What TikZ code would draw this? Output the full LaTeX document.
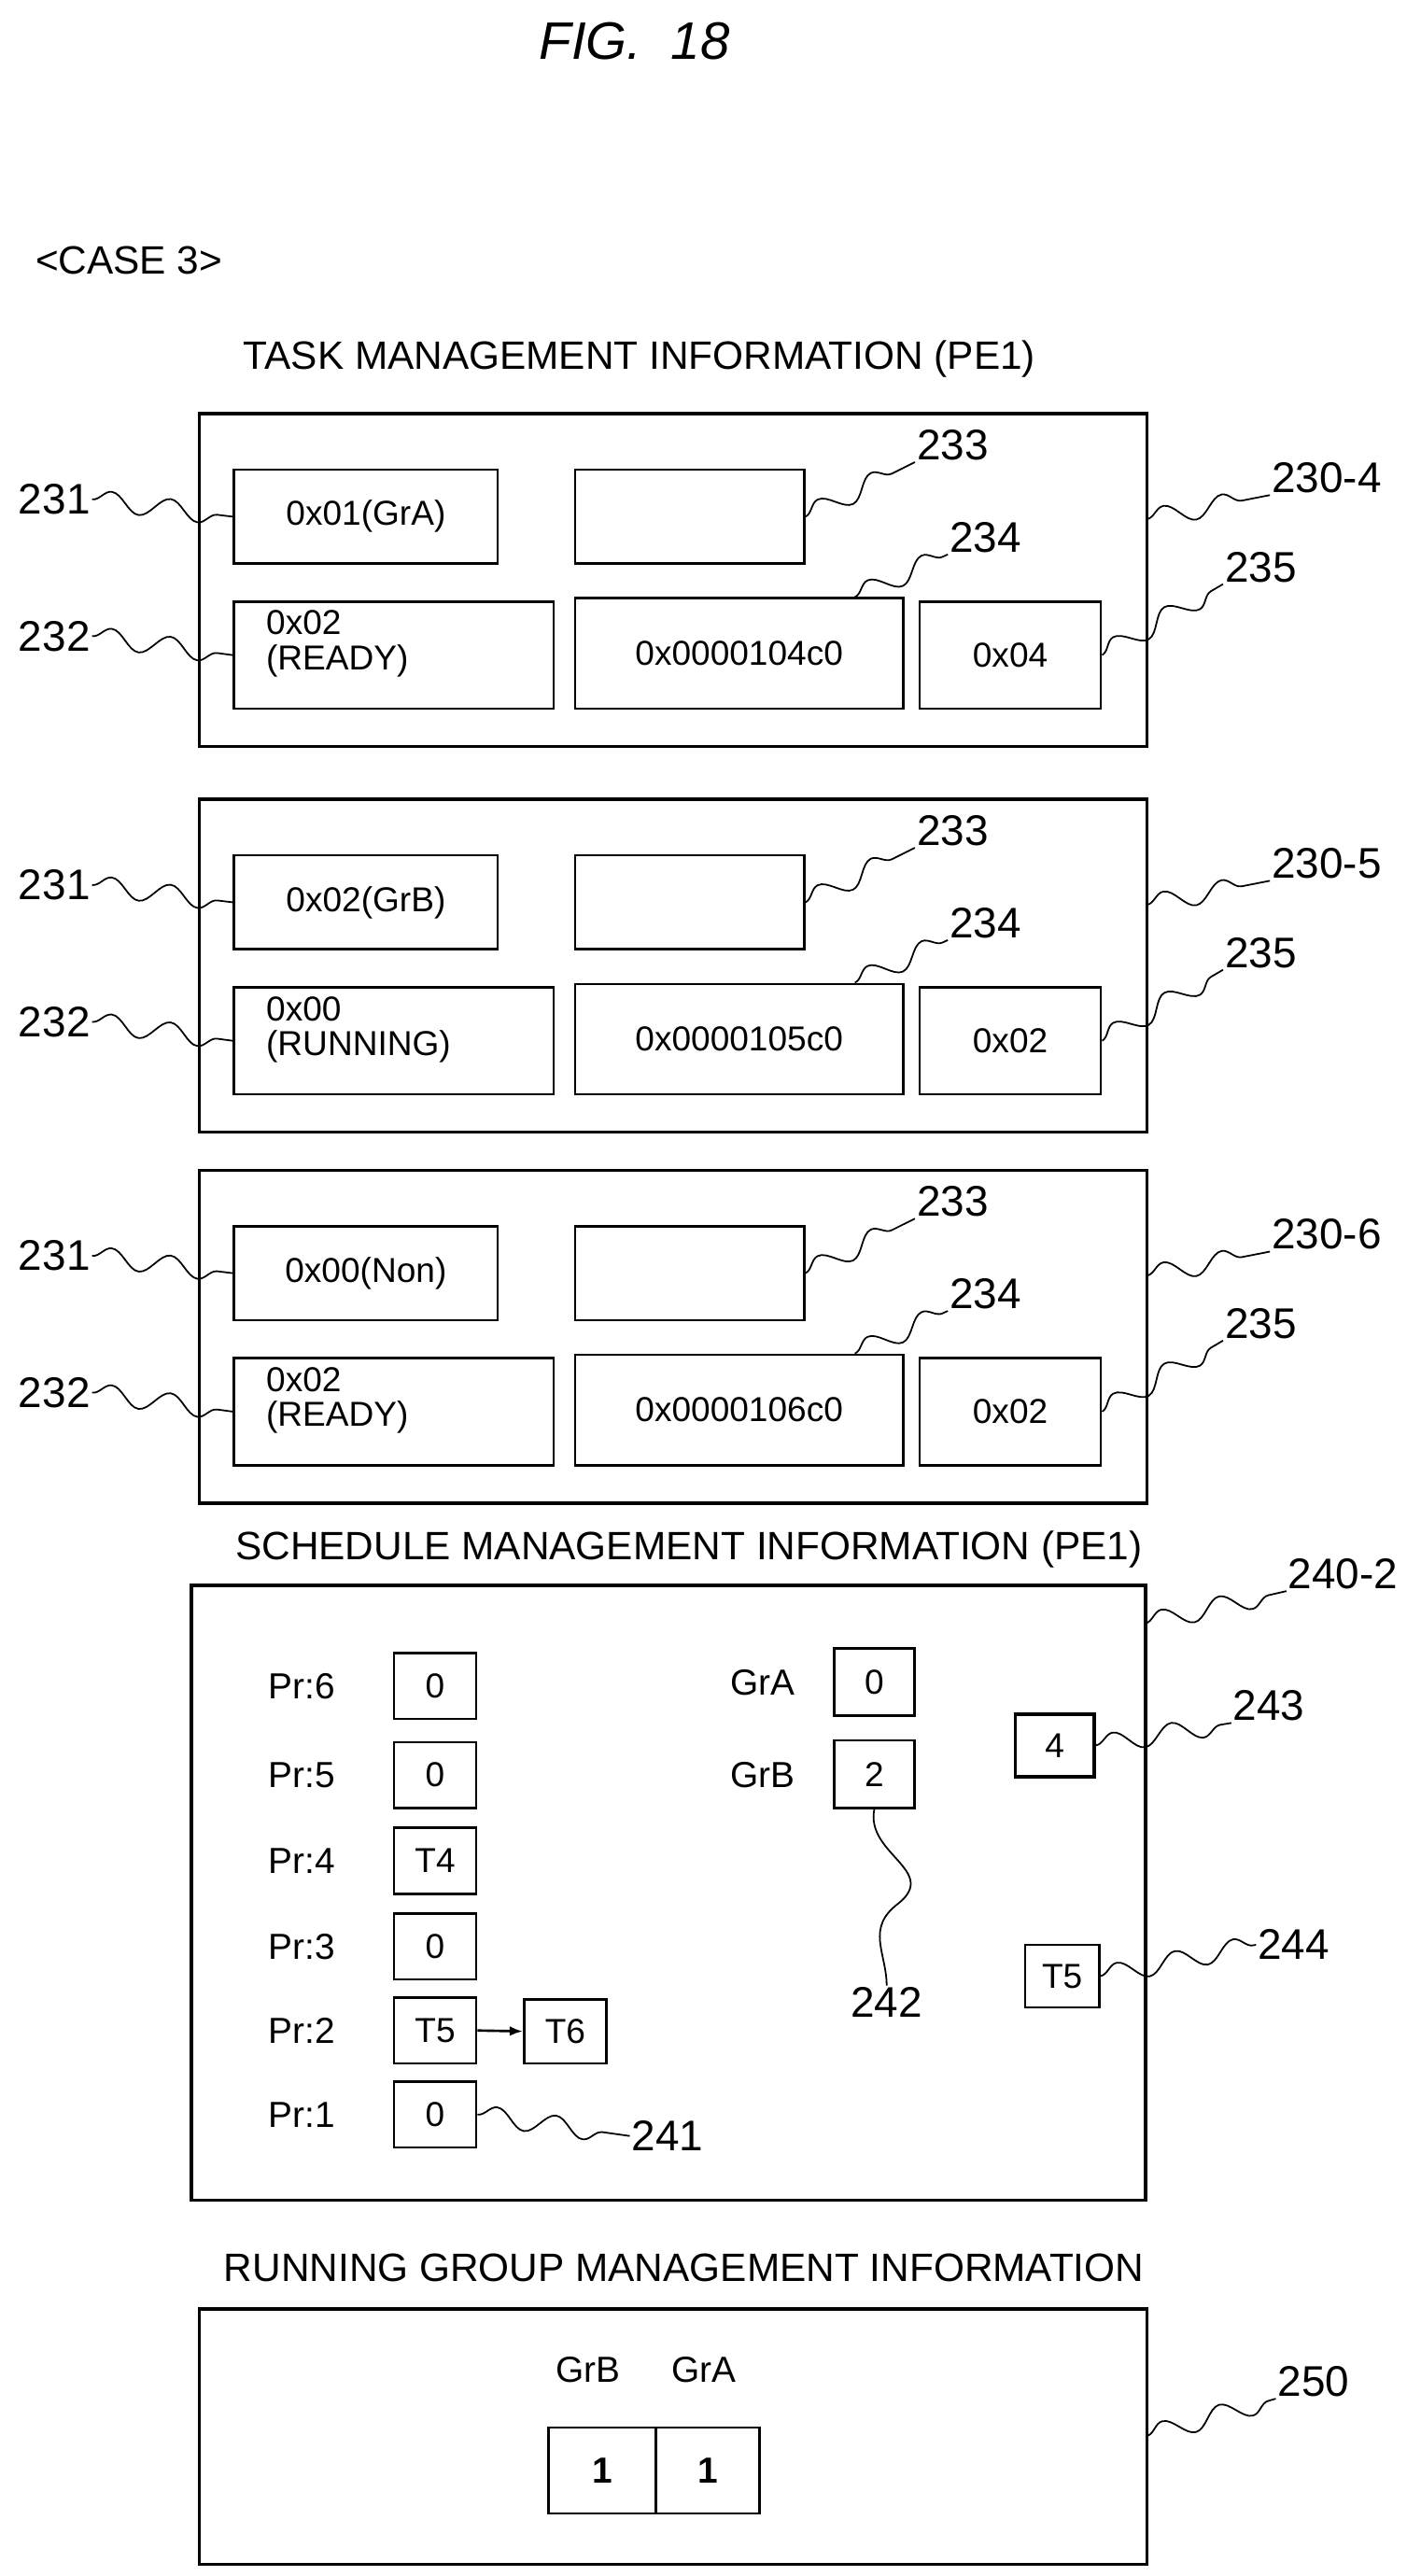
\documentclass[tikz,border=0pt]{standalone}
\usepackage{fontspec}
\setmainfont{Liberation Sans}
\usetikzlibrary{decorations.pathmorphing,arrows.meta}
\newcommand\myfs[1]{\fontsize{#1}{#1}\selectfont}
\newcommand\bxn[7][]{\node[bx,minimum width={((#5)-(#3))*1pt},minimum height={((#6)-(#4))*1pt},#1] (#2) at ({((#3)+(#5))/2},{((#4)+(#6))/2}) {#7};}
\tikzset{
 bx/.style={draw,line width=1.5pt,inner sep=0pt,font=\myfs{21},align=center},
 outer/.style={draw,line width=2pt,inner sep=0pt},
 lbl/.style={font=\myfs{26},inner sep=1pt},
 ttl/.style={font=\myfs{24}},
 pr/.style={font=\myfs{22}},
 lead/.style={line width=1pt,decorate,decoration={snake,amplitude=6pt,segment length=36pt}}
}
\begin{document}
\begin{tikzpicture}[x=1pt,y=-1pt]
\useasboundingbox (0,0) rectangle (862,1563);
\node[font=\myfs{32}\itshape] (fig) at (385,25) {FIG.\ \ 18};
\node[ttl,anchor=west] (case) at (18,158) {<CASE 3>};
\node[ttl] (tt) at (388,218) {TASK MANAGEMENT INFORMATION (PE1)};
\foreach \dy/\n/\ga/\gb/\gc/\gd/\gf in {0/4/0x01(GrA)/0x02/(READY)/0x0000104c0/0x04,234/5/0x02(GrB)/0x00/(RUNNING)/0x0000105c0/0x02,459/6/0x00(Non)/0x02/(READY)/0x0000106c0/0x02}{
\begin{scope}[shift={(0,\dy)}]
\bxn[outer]{t\n}{121}{251}{696}{453}{}
\bxn{a\n}{142}{285}{302}{342}{\ga}
\bxn{c\n}{349}{285}{488}{342}{}
\bxn{b\n}{142}{365}{336}{430}{}
\node[font=\myfs{21},align=left,anchor=north west] (bt\n) at (158,367) {\gb\\\gc};
\bxn{d\n}{349}{363}{548}{430}{\gd}
\bxn{e\n}{558}{365}{668}{430}{\gf}
\node[lbl] (l231\n) at (33,303) {231};
\node[lbl] (l232\n) at (33,386) {232};
\node[lbl] (l233\n) at (578,270) {233};
\node[lbl] (l234\n) at (598,326) {234};
\node[lbl] (l235\n) at (765,344) {235};
\node[lbl] (lt\n) at (805,290) {230-\n};
\draw[lead] (l231\n.east) -- (a\n.west);
\draw[lead] (l232\n.east) -- (b\n.west);
\draw[lead] (c\n.east) -- (l233\n.south west);
\draw[lead] (d\n.north east) ++(-30,0) coordinate (dd\n) (dd\n) -- (l234\n.south west);
\draw[lead] (e\n.east) -- (l235\n.south west);
\draw[lead] (696,315) coordinate (te\n) -- (lt\n.south west);
\end{scope}}
% schedule
\node[ttl] (st) at (418,940) {SCHEDULE MANAGEMENT INFORMATION (PE1)};
\bxn[outer]{s}{116}{962}{695}{1335}{}
\node[lbl] (ls) at (815,955) {240-2};
\draw[lead] (695,985) -- (ls.south west);
\foreach \p/\y/\v in {6/1023/0,5/1077/0,4/1129/T4,3/1181/0,2/1232/T5,1/1283/0}{
 \node[pr] (pl\p) at (183,\y) {Pr:\p};
 \bxn{pc\p}{239}{\y-20}{289}{\y+20}{\v}
}
\bxn{t6}{318}{1213}{368}{1252}{T6}
\draw[line width=1.5pt,-{Latex[length=8pt]}] (pc2.east) -- (t6.west);
\node[pr] (ga) at (463,1021) {GrA};
\node[pr] (gb) at (463,1077) {GrB};
\bxn{gac}{506}{1000}{555}{1041}{0}
\bxn{gbc}{506}{1056}{555}{1097}{2}
\node[lbl] (l242) at (538,1215) {242};
\draw[line width=1pt] (gbc.south) .. controls (525,1125) and (570,1135) .. (545,1155) .. controls (525,1170) and (538,1185) .. (l242.north);
\bxn[line width=2pt]{c4}{616}{1040}{664}{1078}{4}
\node[lbl] (l243) at (770,1035) {243};
\draw[lead] (c4.east) -- (l243.south west);
\bxn{c5}{622}{1180}{667}{1218}{T5}
\node[lbl] (l244) at (785,1180) {244};
\draw[lead] (c5.east) -- (l244.west);
\node[lbl] (l241) at (405,1296) {241};
\draw[lead] (pc1.east) -- (l241.west);
% running
\node[ttl] (rt) at (415,1376) {RUNNING GROUP MANAGEMENT INFORMATION};
\bxn[outer]{r}{121}{1401}{696}{1556}{}
\node[pr] (rgb) at (357,1438) {GrB};
\node[pr] (rga) at (427,1438) {GrA};
\bxn[font=\myfs{22}\bfseries]{r1}{333}{1473}{398}{1525}{1}
\bxn[font=\myfs{22}\bfseries]{r2}{398}{1473}{461}{1525}{1}
\node[lbl] (l250) at (797,1445) {250};
\draw[lead] (696,1478) -- (l250.south west);
\end{tikzpicture}
\end{document}
